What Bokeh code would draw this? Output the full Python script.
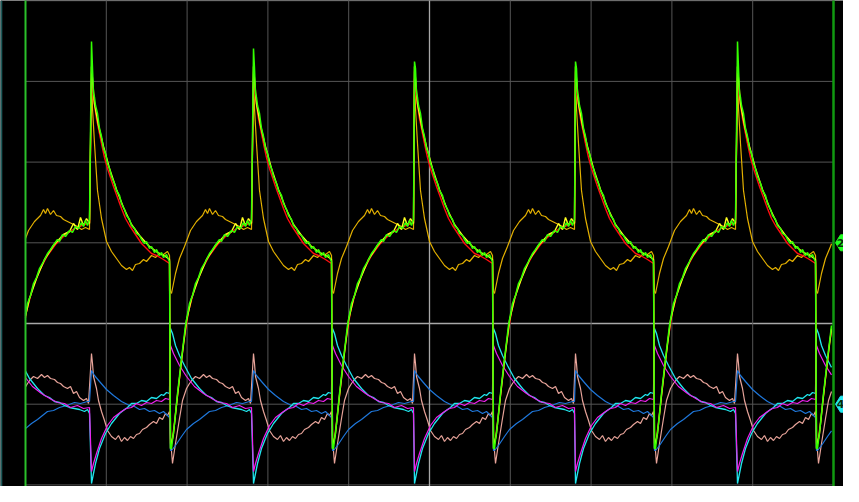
import numpy as np
from bokeh.plotting import figure
from bokeh.models import Range1d, Span
from bokeh.embed import file_html
from bokeh.resources import INLINE
from bokeh.core.properties import value

# ---------------- scope settings ----------------
T_PER_DIV = 80.8      # samples per horizontal division
V_PER_DIV = 80.7      # counts per vertical division
N_TDIV = 10
V_DIVS = [-2, -1, 0, 1, 2, 3, 4]

# rising-edge instants of each cycle (samples after the left edge of the graticule)
CYCLE_STARTS = [-96, 66, 228, 389, 550, 712]
RECORD_END = 806

# channel markers
TAG_LABELS = ["2", "4"]
TAG_DIVS = [1, -1]
TAG_COLORS = ["#22ff22", "#22e8f0"]

# ---------------- one cycle of every trace (time after rising edge, level) ----------------
green_t = [0, 1, 2, 3, 4, 6, 8, 10, 12, 14, 16, 18, 20, 23, 25, 28, 30, 33, 35, 38, 40, 43, 45, 48,
           50, 53, 55, 58, 60, 63, 65, 68, 70, 72, 75, 77, 78, 79, 80, 83, 86, 90, 94, 98, 101, 104,
           107, 110, 114, 118, 121, 125, 128, 130, 133, 136, 140, 143, 146, 149, 152, 154, 156, 158, 160]
green_v = [282, 255, 230, 226, 218, 210, 195, 187, 175, 170, 160, 155, 147, 140, 133, 128, 120, 114,
           108, 104, 98, 95, 90, 88, 84, 80, 82, 75, 77, 71, 74, 68, 71, 66, 69, 64, 62, -125, -125,
           -100, -70, -35, -2, 20, 28, 40, 46, 55, 62, 70, 74, 80, 84, 82, 89, 87, 93, 91, 97, 95, 101,
           97, 103, 98, 104]
green_peaks = [282, 282, 275, 262, 262, 282]

red_t = [0, 2, 5, 8, 10, 13, 16, 19, 22, 26, 30, 34, 38, 42, 46, 50, 55, 60, 65, 72, 78, 79, 81, 84,
         88, 92, 97, 103, 110, 118, 126, 135, 145, 155, 160]
red_v = [245, 225, 205, 190, 180, 166, 155, 146, 137, 126, 115, 105, 98, 92, 86, 80, 75, 70, 68, 64,
         60, -120, -115, -90, -55, -20, 12, 35, 53, 68, 79, 88, 95, 99, 101]

yellow_t = [0, 3, 7, 12, 18, 25, 32, 40, 48, 57, 66, 74, 78, 79, 82, 86, 90, 95, 100, 107, 115, 124,
            134, 140, 144, 148, 151, 154, 157, 160]
yellow_v = [257, 220, 198, 177, 155, 134, 116, 99, 88, 78, 71, 67, 64, -125, -110, -72, -37, 3, 25,
            45, 64, 78, 89, 92, 100, 94, 106, 98, 105, 100]

gold_t = [0, 1, 3, 6, 10, 15, 20, 25, 30, 35, 38, 41, 44, 48, 52, 55, 60, 64, 68, 72, 76, 78, 79, 80,
          84, 88, 93, 99, 105, 111, 114, 116, 118, 121, 124, 127, 131, 134, 138, 142, 148, 152, 156, 160]
gold_v = [252, 215, 180, 133, 105, 82, 72, 65, 58, 54, 56, 53, 59, 60, 64, 62, 68, 66, 70, 69, 72, 68,
          32, 30, 50, 65, 77, 93, 102, 108, 114, 110, 115, 109, 113, 108, 107, 104, 102, 100, 97, 94,
          96, 94]

cyan_t = [0, 2, 4, 8, 14, 20, 28, 33, 36, 40, 45, 50, 55, 60, 65, 70, 72, 75, 78, 79, 81, 84, 88, 93,
          100, 108, 115, 120, 125, 130, 135, 140, 145, 150, 155, 158, 160]
cyan_v = [-160, -150, -140, -125, -110, -100, -90, -86, -84, -80, -80, -77, -78, -74, -75, -71, -72,
          -69, -70, -5, -10, -22, -32, -42, -55, -65, -72, -74, -78, -79, -82, -84, -85, -86, -88, -86, -90]

magenta_t = [0, 2, 5, 10, 16, 22, 30, 35, 40, 45, 50, 55, 60, 65, 70, 74, 78, 79, 82, 88, 95, 103,
             112, 122, 128, 135, 141, 148, 154, 160]
magenta_v = [-148, -140, -130, -115, -102, -94, -88, -85, -84, -80, -82, -79, -80, -77, -78, -75, -76,
             -22, -30, -42, -53, -63, -70, -76, -79, -80, -84, -82, -85, -84]

blue_t = [0, 3, 8, 15, 22, 30, 38, 43, 48, 53, 58, 63, 68, 72, 76, 78, 79, 80, 84, 90, 95, 102, 108,
          113, 118, 124, 130, 137, 145, 151, 158, 160]
blue_v = [-47, -52, -58, -66, -72, -78, -82, -83, -86, -85, -88, -87, -90, -88, -92, -94, -127, -127,
          -122, -113, -106, -100, -96, -92, -88, -87, -84, -82, -79, -80, -78, -78]

pink_t = [0, 1, 2, 5, 7, 10, 13, 16, 20, 24, 27, 30, 33, 36, 39, 42, 45, 48, 51, 55, 58, 62, 65, 68,
          71, 74, 76, 78, 79, 81, 84, 88, 91, 95, 98, 101, 104, 108, 112, 115, 118, 121, 125, 128, 131,
          134, 138, 141, 144, 147, 150, 154, 157, 159]
pink_v = [-30, -40, -53, -65, -77, -88, -97, -107, -113, -116, -112, -118, -114, -117, -113, -115, -111,
          -110, -106, -104, -101, -98, -100, -94, -96, -90, -92, -88, -115, -140, -120, -95, -77, -65,
          -60, -56, -53, -55, -51, -54, -52, -55, -56, -59, -60, -63, -65, -63, -70, -68, -74, -77, -75, -80]


def build(ts, vs, starts, end, first_values=None):
    xs, ys = [], []
    for i, s in enumerate(starts):
        v = list(vs)
        if first_values is not None:
            v[0] = first_values[i]
        xs.extend([s + t for t in ts])
        ys.extend(v)
    xs = np.array(xs, float)
    ys = np.array(ys, float)
    y0 = np.interp(0, xs, ys)
    y1 = np.interp(end, xs, ys)
    m = (xs > 0) & (xs < end)
    return (np.concatenate([[0], xs[m], [end]]), np.concatenate([[y0], ys[m], [y1]]))


x_lo = -25
x_hi = 818
p = figure(width=843, height=486, x_range=Range1d(x_lo, x_hi), y_range=Range1d(-163, 323),
           output_backend="svg", toolbar_location=None, min_border=0,
           x_axis_type=None, y_axis_type=None)
p.background_fill_color = "black"
p.border_fill_color = "black"
p.outline_line_color = None
p.grid.visible = False

g_right = N_TDIV * T_PER_DIV

# horizontal graticule
for k in V_DIVS:
    col = "#a8a8a8" if k == 0 else "#555555"
    p.segment(x0=[0], y0=[k * V_PER_DIV], x1=[g_right], y1=[k * V_PER_DIV], line_color=col,
              line_width=1.3 if k == 0 else 1)
# vertical graticule
for j in range(1, N_TDIV):
    col = "#a8a8a8" if j == N_TDIV // 2 else "#555555"
    p.segment(x0=[j * T_PER_DIV], y0=[-200], x1=[j * T_PER_DIV], y1=[400], line_color=col,
              line_width=1.3 if j == N_TDIV // 2 else 1)

p.add_layout(Span(location=x_lo + 0.8, dimension="height", line_color="#1d5a5a", line_width=2))

# bottom group
for ts, vs, col, w in [(pink_t, pink_v, "#e8a49a", 1.2), (blue_t, blue_v, "#1f78dc", 1.2),
                       (cyan_t, cyan_v, "#20e6ee", 1.3), (magenta_t, magenta_v, "#ee22ee", 1.2)]:
    xs, ys = build(ts, vs, CYCLE_STARTS, RECORD_END)
    p.line(xs, ys, line_color=col, line_width=w)

# top group
for ts, vs, col, w, fv in [(gold_t, gold_v, "#e3b000", 1.2, None),
                           (red_t, red_v, "#ff1010", 1.4, None),
                           (yellow_t, yellow_v, "#ffff20", 1.4, None),
                           (green_t, green_v, "#33ff00", 1.5, green_peaks)]:
    xs, ys = build(ts, vs, CYCLE_STARTS, RECORD_END, fv)
    p.line(xs, ys, line_color=col, line_width=w)

# trigger / end lines
p.segment(x0=[0], y0=[-200], x1=[0], y1=[400], line_color="#2bc02b", line_width=2)
p.segment(x0=[g_right], y0=[-200], x1=[g_right], y1=[400], line_color="#119a11", line_width=2.5)

# channel tags
for lab, d, col in zip(TAG_LABELS, TAG_DIVS, TAG_COLORS):
    lvl = d * V_PER_DIV
    p.patch([g_right + 2, g_right + 7, g_right + 30, g_right + 30, g_right + 7],
            [lvl, lvl + 8, lvl + 8, lvl - 8, lvl - 8], fill_color=col, line_color=col)
    p.text(x=[g_right + 7], y=[lvl], text=[lab], text_color="#0a2a0a",
           text_font=value("DejaVu Sans"), text_font_style="bold", text_font_size="11px",
           text_align="center", text_baseline="middle")

open("out.html", "w").write(file_html(p, INLINE))
